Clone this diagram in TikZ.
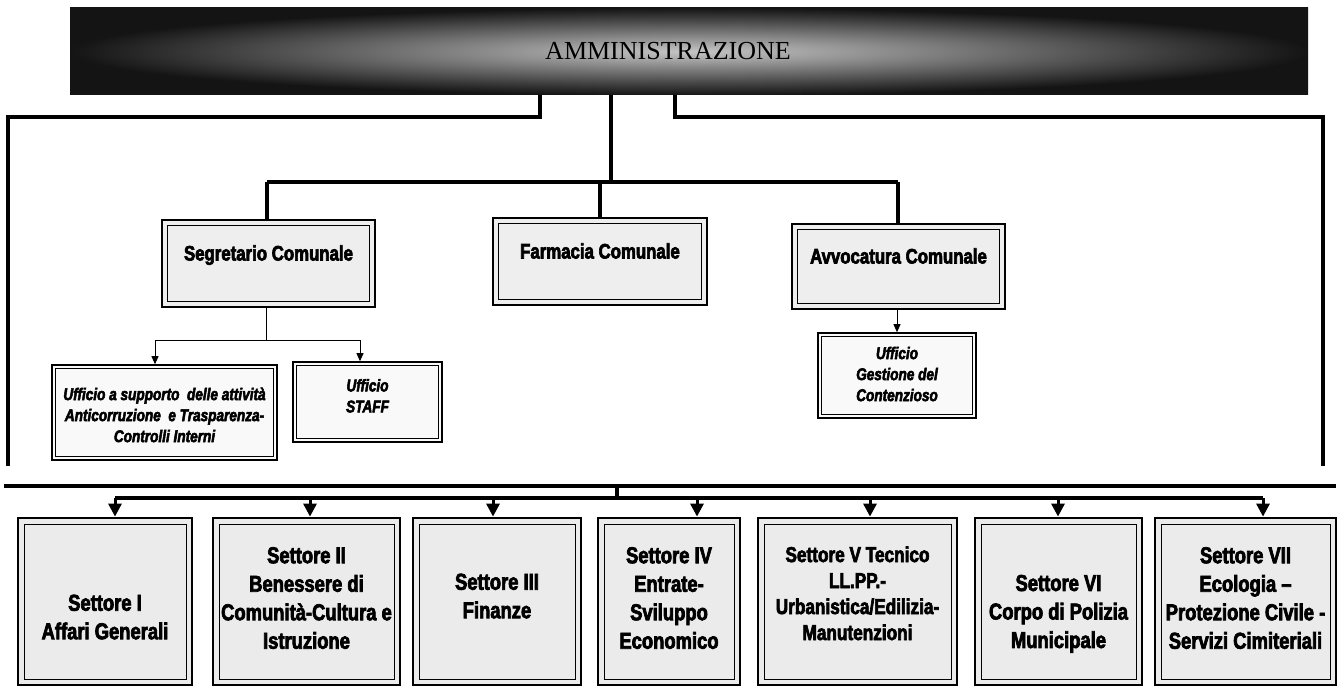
\documentclass[tikz,border=0pt]{standalone}
\usepackage{fontspec}
\setmainfont{Liberation Sans}
\newfontfamily\cnd[FakeStretch=0.8, BoldFeatures={FakeBold=3}, BoldItalicFeatures={FakeBold=3}]{Liberation Sans}
\newfontfamily\ser{Liberation Serif}
\usetikzlibrary{arrows.meta,calc}
\newcommand\boxtxt[2]{\raisebox{#1}[0pt][0pt]{\begin{tabular}{@{}c@{}}#2\end{tabular}}}
\tikzset{
  dbl/.style={path picture={\draw[line width=0.7pt] ([shift={(#1,#1)}]path picture bounding box.south west) rectangle ([shift={(-#1,-#1)}]path picture bounding box.north east);}},
  bannerbox/.style={rectangle, shade, shading=radial, inner color=gray!45, outer color=black!92, minimum width=1238pt, minimum height=87pt, inner sep=0pt, font={\ser\fontsize{26pt}{28pt}\selectfont}},
  tiertwo/.style={rectangle, draw=black, line width=2.6pt, fill=gray!13, dbl=5.5pt, inner sep=0pt, text height=14pt, text depth=20pt, font={\cnd\bfseries\fontsize{21pt}{24pt}\selectfont}},
  officebox/.style={rectangle, draw=black, line width=1.6pt, fill=gray!5, dbl=3.2pt, inner sep=0pt, font={\cnd\bfseries\itshape\fontsize{17pt}{21pt}\selectfont}},
  settbox/.style={rectangle, draw=black, line width=2.8pt, fill=gray!16, dbl=6pt, inner sep=0pt, minimum height=167pt, font={\cnd\bfseries\fontsize{23pt}{28.5pt}\selectfont}},
  heavy/.style={line width=3.8pt},
  bar/.style={line width=4.5pt},
  thinline/.style={line width=0.9pt},
  thinarrow/.style={line width=0.9pt, -{Triangle[length=8pt,width=7pt]}},
  bigarrow/.style={line width=3pt, -{Triangle[length=13pt,width=13pt]}},
}
\begin{document}
\begin{tikzpicture}[x=1pt,y=-1pt]
\useasboundingbox (0,0) rectangle (1338,687);

% banner
\node[bannerbox] (banner) at (689,51.5) {AMMINISTRAZIONE\hspace*{42pt}};

% second tier
\node[tiertwo, minimum width=213pt, minimum height=87pt] (segr) at (268.5,263.5) {Segretario Comunale};
\node[tiertwo, minimum width=214pt, minimum height=87pt] (farm) at (600,261.5) {Farmacia Comunale};
\node[tiertwo, minimum width=213pt, minimum height=85pt] (avv) at (898.5,266.5) {Avvocatura Comunale};

% offices
\node[officebox, minimum width=225pt, minimum height=95pt] (anti) at (164.5,412.5) {\boxtxt{-8.7pt}{Ufficio a supporto\ \ delle attività\\Anticorruzione\ \ e Trasparenza-\\Controlli Interni}};
\node[officebox, minimum width=149pt, minimum height=80pt] (staff) at (367.5,402) {\boxtxt{0pt}{Ufficio\\STAFF}};
\node[officebox, minimum width=158pt, minimum height=85pt] (gest) at (897,375.5) {\boxtxt{-4.7pt}{Ufficio\\Gestione del\\Contenzioso}};

% settori
\node[settbox, minimum width=174pt] (s1) at (105,601.5) {\boxtxt{-24pt}{Settore I\\Affari Generali}};
\node[settbox, minimum width=187pt] (s2) at (306.5,601.5) {\boxtxt{-5pt}{Settore II\\Benessere di\\Comunità-Cultura e\\Istruzione}};
\node[settbox, minimum width=168pt] (s3) at (497,601.5) {\boxtxt{-3pt}{Settore III\\Finanze}};
\node[settbox, minimum width=142pt] (s4) at (669,601.5) {\boxtxt{-5pt}{Settore IV\\Entrate-\\Sviluppo\\Economico}};
\node[settbox, minimum width=199pt, font={\cnd\bfseries\fontsize{21.5pt}{26pt}\selectfont}] (s5) at (857.5,601.5) {\boxtxt{0.5pt}{Settore V Tecnico\\LL.PP.-\\Urbanistica/Edilizia-\\Manutenzioni}};
\node[settbox, minimum width=167pt] (s6) at (1058.5,601.5) {\boxtxt{-18.5pt}{Settore VI\\Corpo di Polizia\\Municipale}};
\node[settbox, minimum width=181pt] (s7) at (1245.5,601.5) {\boxtxt{-5pt}{Settore VII\\Ecologia –\\Protezione Civile -\\Servizi Cimiteriali}};

% coordinates
\coordinate (tl) at (540,117);
\coordinate (tlc) at (8,117);
\coordinate (tle) at (8,466);
\coordinate (tr) at (675,117);
\coordinate (trc) at (1323,117);
\coordinate (tre) at (1323,466);
\coordinate (tc) at (611,182);
\coordinate (b2l) at (267,182);
\coordinate (b2m) at (600,182);
\coordinate (b2r) at (898,182);
\coordinate (sj) at (266,340);
\coordinate (sjl) at (155,340);
\coordinate (sjr) at (360,340);
\coordinate (ub1) at (4,486);
\coordinate (ub2) at (1336,486);
\coordinate (jb) at (617,486);
\coordinate (a1) at (115,498);
\coordinate (a2) at (310,498);
\coordinate (a3) at (493,498);
\coordinate (a4) at (697,498);
\coordinate (a5) at (870,498);
\coordinate (a6) at (1058,498);
\coordinate (a7) at (1263,498);

% top connectors
\draw[heavy] (banner.south -| tl) -- (tl) -- (tlc) -- (tle);
\draw[heavy] (banner.south -| tr) -- (tr) -- (trc) -- (tre);
\draw[heavy] (banner.south -| tc) -- (tc);
\draw[heavy] (b2l) -- (b2r);
\draw[heavy] (b2l) -- (segr.north -| b2l);
\draw[heavy] (b2m) -- (farm.north -| b2m);
\draw[heavy] (b2r) -- (avv.north -| b2r);

% segretario sub-offices
\draw[thinline] (segr.south -| sj) -- (sj);
\draw[thinline] (sjl) -- (sjr);
\draw[thinarrow] (sjl) -- (anti.north -| sjl);
\draw[thinarrow] (sjr) -- (staff.north -| sjr);

% avvocatura sub-office
\draw[thinarrow] (avv.south -| gest.north) -- (gest.north);

% bottom bars
\draw[bar] (ub1) -- (ub2);
\draw[heavy] (jb) -- (jb |- a1);
\draw[heavy] (a1) -- (a7);
\draw[bigarrow] (a1) -- (s1.north -| a1);
\draw[bigarrow] (a2) -- (s2.north -| a2);
\draw[bigarrow] (a3) -- (s3.north -| a3);
\draw[bigarrow] (a4) -- (s4.north -| a4);
\draw[bigarrow] (a5) -- (s5.north -| a5);
\draw[bigarrow] (a6) -- (s6.north -| a6);
\draw[bigarrow] (a7) -- (s7.north -| a7);
\end{tikzpicture}
\end{document}
